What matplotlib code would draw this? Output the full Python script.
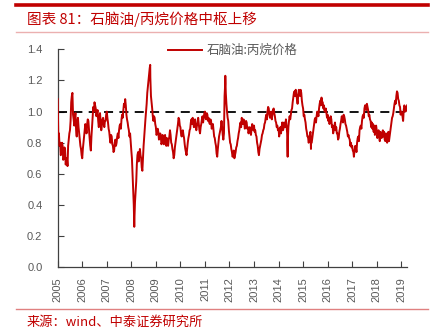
import matplotlib
matplotlib.use('Agg')
import matplotlib.pyplot as plt
from matplotlib.lines import Line2D
import numpy as np

plt.rcParams['font.family'] = ['Liberation Sans', 'Noto Sans CJK SC', 'DejaVu Sans']

# ---- data: naphtha / propane price ratio, readings at each 1/20 year ----
y2005 = [1.08, 0.86, 0.80, 0.74, 0.78, 0.70, 0.76, 0.68, 0.65, 0.82, 0.88, 1.06, 1.12, 0.95, 0.97, 0.88, 0.93, 0.90, 0.82, 0.76]
y2006 = [0.70, 0.80, 0.88, 0.90, 0.92, 0.94, 0.83, 0.75, 0.90, 1.03, 1.06, 1.02, 0.99, 0.94, 0.96, 0.93, 0.91, 0.96, 0.90, 0.94]
y2007 = [1.00, 0.93, 0.87, 0.80, 0.84, 0.78, 0.75, 0.82, 0.80, 0.86, 0.88, 0.92, 0.95, 0.96, 1.05, 1.08, 0.98, 0.93, 0.88, 0.86]
y2008 = [0.75, 0.60, 0.40, 0.42, 0.55, 0.72, 0.68, 0.76, 0.70, 0.62, 0.78, 0.90, 1.00, 1.12, 1.20, 1.28, 1.10, 1.02, 0.94, 0.96]
y2009 = [0.90, 0.86, 0.87, 0.83, 0.85, 0.80, 0.84, 0.82, 0.81, 0.83, 0.78, 0.84, 0.85, 0.79, 0.74, 0.72, 0.80, 0.86, 0.92, 0.95]
y2010 = [0.90, 0.84, 0.88, 0.83, 0.76, 0.72, 0.80, 0.85, 0.89, 0.95, 0.96, 0.90, 0.95, 0.88, 0.93, 0.92, 0.86, 0.92, 0.97, 0.96]
y2011 = [1.00, 0.95, 0.98, 0.96, 0.92, 0.94, 0.90, 0.88, 0.83, 0.78, 0.71, 0.80, 0.86, 0.90, 0.90, 0.82, 1.10, 1.12, 1.00, 0.94]
y2012 = [0.84, 0.79, 0.74, 0.72, 0.70, 0.74, 0.78, 0.83, 0.88, 0.93, 0.96, 0.92, 0.93, 0.91, 0.93, 0.90, 0.88, 0.87, 0.89, 0.90]
y2013 = [0.91, 0.88, 0.84, 0.78, 0.72, 0.78, 0.82, 0.86, 0.89, 0.93, 0.98, 1.00, 1.02, 0.96, 1.00, 0.98, 1.02, 0.97, 0.93, 0.91]
y2014 = [0.89, 0.87, 0.86, 0.93, 0.89, 0.92, 0.95, 0.86, 0.90, 0.97, 0.98, 1.02, 1.09, 1.13, 1.14, 1.08, 1.10, 1.13, 1.14, 1.07]
y2015 = [1.02, 0.98, 0.93, 0.87, 0.84, 0.81, 0.87, 0.80, 0.86, 0.92, 0.96, 0.97, 0.99, 1.02, 1.07, 1.09, 1.06, 1.04, 1.00, 0.99]
y2016 = [0.98, 0.96, 0.94, 0.95, 0.91, 0.88, 0.93, 0.90, 0.86, 0.83, 0.89, 0.94, 0.96, 0.98, 0.95, 0.91, 0.87, 0.85, 0.82, 0.80]
y2017 = [0.78, 0.74, 0.75, 0.77, 0.80, 0.84, 0.88, 0.91, 0.94, 0.98, 1.02, 1.04, 1.05, 1.01, 0.98, 0.94, 0.93, 0.92, 0.91, 0.87]
y2018 = [0.88, 0.85, 0.84, 0.87, 0.83, 0.88, 0.87, 0.81, 0.85, 0.84, 0.81, 0.87, 0.93, 0.97, 1.02, 1.07, 1.10, 1.12, 1.07, 1.03]
y2019 = [1.00, 0.97, 1.01, 1.03, 1.02]

# readings half-way between the above (short-term swings)
m2005 = [0.84, 0.78, 0.72, 0.80, 0.69, 0.77, 0.66, 0.70, 0.78, 0.86, 0.94, 1.10, 0.98, 0.91, 0.99, 0.84, 0.96, 0.86, 0.78, 0.72]
m2006 = [0.76, 0.84, 0.92, 0.86, 0.95, 0.88, 0.78, 0.84, 0.97, 1.00, 1.04, 0.97, 1.01, 0.90, 0.99, 0.88, 0.95, 0.92, 0.94, 0.98]
m2007 = [0.96, 0.89, 0.83, 0.85, 0.79, 0.74, 0.80, 0.78, 0.84, 0.83, 0.91, 0.89, 0.98, 1.01, 1.03, 1.04, 0.95, 0.90, 0.84, 0.80]
m2008 = [0.70, 0.50, 0.30, 0.48, 0.66, 0.74, 0.72, 0.72, 0.64, 0.70, 0.84, 0.95, 1.05, 1.16, 1.24, 1.22, 1.06, 0.97, 0.97, 0.92]
m2009 = [0.85, 0.89, 0.82, 0.86, 0.79, 0.85, 0.79, 0.85, 0.78, 0.80, 0.82, 0.88, 0.80, 0.76, 0.70, 0.77, 0.83, 0.89, 0.96, 0.91]
m2010 = [0.86, 0.87, 0.85, 0.79, 0.74, 0.76, 0.83, 0.88, 0.93, 0.92, 0.93, 0.94, 0.90, 0.91, 0.96, 0.88, 0.90, 0.95, 0.93, 0.99]
m2011 = [0.96, 0.99, 0.94, 0.93, 0.95, 0.89, 0.92, 0.84, 0.80, 0.73, 0.76, 0.84, 0.88, 0.94, 0.85, 0.86, 1.18, 1.05, 0.96, 0.88]
m2012 = [0.80, 0.76, 0.71, 0.75, 0.72, 0.77, 0.81, 0.86, 0.91, 0.90, 0.93, 0.95, 0.89, 0.94, 0.89, 0.86, 0.90, 0.85, 0.92, 0.88]
m2013 = [0.87, 0.85, 0.80, 0.74, 0.76, 0.80, 0.85, 0.88, 0.92, 0.96, 0.95, 1.03, 0.98, 0.99, 0.95, 1.01, 0.99, 0.94, 0.90, 0.88]
m2014 = [0.84, 0.90, 0.90, 0.88, 0.93, 0.90, 0.91, 0.80, 0.94, 0.95, 1.01, 1.06, 1.12, 1.10, 1.11, 1.05, 1.14, 1.10, 1.12, 1.04]
m2015 = [0.97, 0.95, 0.89, 0.84, 0.80, 0.85, 0.80, 0.83, 0.89, 0.95, 0.93, 1.00, 0.97, 1.05, 1.04, 1.06, 1.02, 1.00, 1.02, 0.96]
m2016 = [0.94, 0.92, 0.97, 0.90, 0.86, 0.91, 0.88, 0.86, 0.82, 0.87, 0.92, 0.97, 0.93, 0.97, 0.92, 0.89, 0.84, 0.83, 0.78, 0.77]
m2017 = [0.75, 0.72, 0.78, 0.74, 0.83, 0.81, 0.90, 0.89, 0.97, 0.96, 1.04, 1.01, 1.03, 0.97, 0.95, 0.90, 0.89, 0.87, 0.85, 0.91]
m2018 = [0.83, 0.88, 0.81, 0.84, 0.86, 0.84, 0.82, 0.86, 0.80, 0.87, 0.84, 0.90, 0.96, 0.99, 1.05, 1.05, 1.13, 1.08, 1.04, 0.98]
m2019 = [0.99, 0.94, 1.04, 1.00]

# extra readings at spikes (decimal year, value)
spike_dates = [2008.12, 2008.77, 2011.83, 2014.37, 2015.32, 2017.07, 2019.08, 2019.24]
spike_vals = [0.26, 1.30, 1.23, 0.71, 0.76, 0.71, 0.95, 1.04]

years = list(range(2005, 2020))
series = [y2005, y2006, y2007, y2008, y2009, y2010, y2011, y2012, y2013,
          y2014, y2015, y2016, y2017, y2018, y2019]
mids = [m2005, m2006, m2007, m2008, m2009, m2010, m2011, m2012, m2013,
        m2014, m2015, m2016, m2017, m2018, m2019]

dates, vals = [], []
for yr, s, m in zip(years, series, mids):
    for i, v in enumerate(s):
        dates.append(yr + i / 20.0)
        vals.append(v)
    for i, v in enumerate(m):
        dates.append(yr + i / 20.0 + 0.025)
        vals.append(v)
dates += spike_dates
vals += spike_vals
order = np.argsort(dates, kind='stable')
dates = np.array(dates)[order]
vals = np.array(vals)[order]

ref_level = 1.0
y_ticks = [0.0, 0.2, 0.4, 0.6, 0.8, 1.0, 1.2, 1.4]
x_ticks = years

RED = '#C00000'
GRAY = '#595959'

W, H = 438, 336
fig = plt.figure(figsize=(W / 100, H / 100), dpi=100)
left, right = 57.7, 406.7
bottom, top = 267.3, 49.3
ax = fig.add_axes([left / W, 1 - bottom / H, (right - left) / W, (bottom - top) / H])

ax.plot(dates, vals, color=RED, lw=1.4, label='石脑油:丙烷价格', zorder=3)
ax.axhline(ref_level, color='black', lw=1.3, ls=(0, (5, 3.5)), zorder=2)

ax.set_xlim(2005, 2005 + (right - left) / 24.54)
ax.set_ylim(0, 1.4)
ax.set_xticks(x_ticks)
ax.set_xticklabels([str(y) for y in x_ticks], rotation=90)
ax.set_yticks(y_ticks)
ax.set_yticklabels([f'{v:.1f}' for v in y_ticks])
ax.tick_params(axis='x', direction='in', length=4, width=0.8, colors='#404040',
               labelcolor=GRAY, labelsize=8, pad=7)
ax.tick_params(axis='y', direction='in', length=4, width=0.8, colors='#404040',
               labelcolor=GRAY, labelsize=8, pad=11)
for s in ['top', 'right']:
    ax.spines[s].set_visible(False)
for s in ['left', 'bottom']:
    ax.spines[s].set_color('#404040')
    ax.spines[s].set_linewidth(0.9)

leg = ax.legend(loc='center left', bbox_to_anchor=(168 / W, 1 - 50.7 / H),
                bbox_transform=fig.transFigure, frameon=False,
                handlelength=2.7, handletextpad=0.4, borderpad=0, borderaxespad=0,
                prop={'family': ['Noto Sans CJK SC'], 'size': 9})
for t in leg.get_texts():
    t.set_color(GRAY)

# header / footer decorations
fig.add_artist(Line2D([16 / W, 428 / W], [1 - 5.3 / H] * 2, transform=fig.transFigure,
                      color=RED, lw=2.6))
fig.add_artist(Line2D([16 / W, 428 / W], [1 - 31.7 / H] * 2, transform=fig.transFigure,
                      color='#EBB0B0', lw=1.0))
fig.add_artist(Line2D([16 / W, 428 / W], [1 - 309.3 / H] * 2, transform=fig.transFigure,
                      color='#E08080', lw=1.0))
fig.text(27 / W, 1 - 19.5 / H, '图表 81：石脑油/丙烷价格中枢上移', color=RED,
         fontsize=10.5, va='center', ha='left', family=['Noto Sans CJK SC', 'DejaVu Sans'])
fig.text(27 / W, 1 - 322 / H, '来源：wind、中泰证券研究所', color=RED,
         fontsize=9.5, va='center', ha='left', family=['Noto Sans CJK SC', 'DejaVu Sans'])

fig.savefig('out.png', dpi=100, facecolor='white')
